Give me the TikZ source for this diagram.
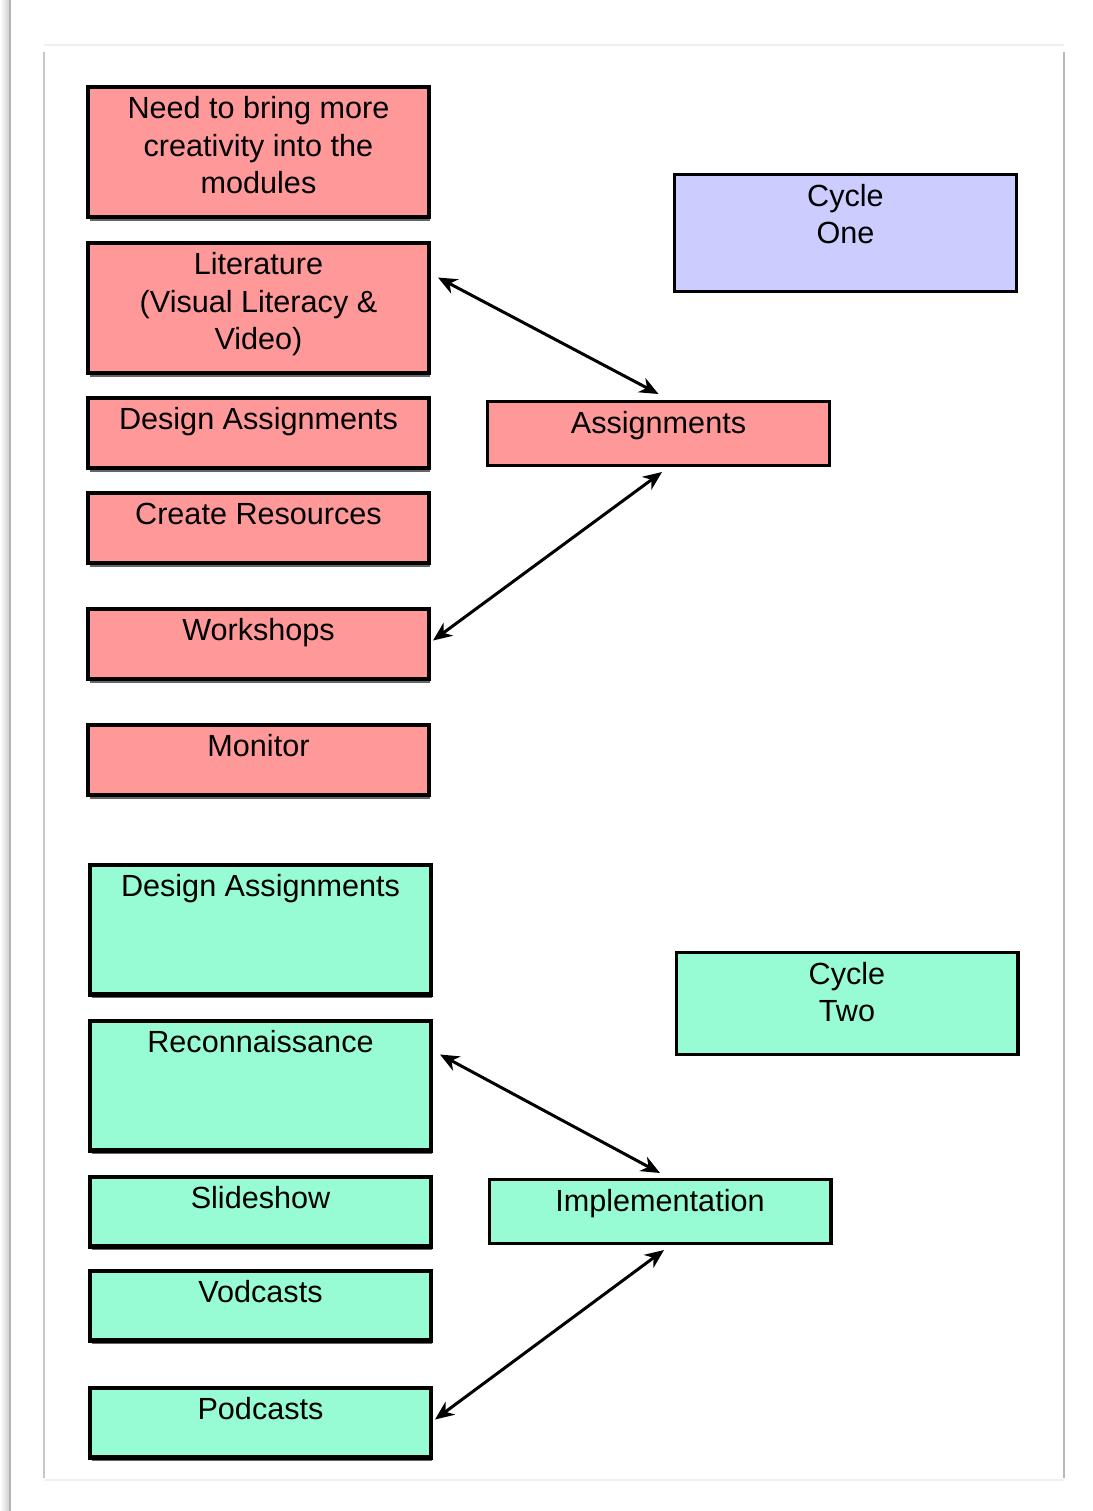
\documentclass[tikz,border=0pt]{standalone}
\usepackage{fontspec}
\setmainfont{Liberation Sans}
\usepackage{tikz}
\usetikzlibrary{arrows.meta}
\usetikzlibrary{positioning}
\usetikzlibrary{shadows}

\definecolor{pinkfill}{RGB}{255,153,153}
\definecolor{bluefill}{RGB}{204,204,255}
\definecolor{greenfill}{RGB}{151,252,212}

% text block, pinned to the top of its box
\newcommand{\boxlines}[3]{\parbox[c][#2][t]{#1}{\centering\rule{0pt}{15.8pt}#3}}

\tikzset{
    stage/.style={
           rectangle,
           draw=black, line width=2.2pt,
           inner sep=0pt,
           font=\fontsize{15.3pt}{18.75pt}\selectfont,
           drop shadow={shadow xshift=0.8pt, shadow yshift=-1.9pt,
                        fill=black!80, opacity=0.75},
           },
    hub/.style={
           rectangle,
           draw=black, line width=1.6pt,
           inner sep=0pt,
           font=\fontsize{15.3pt}{18.75pt}\selectfont,
           },
    link/.style={<->, line width=1.5pt},
}

\begin{document}
\begin{tikzpicture}
[
x=0.5pt, y=-0.5pt,
>={Stealth[length=9.5pt,width=8pt,inset=3pt]}
]
 \useasboundingbox (0,0) rectangle (1093,1511);

 % page frame
 \shade[left color=white, right color=black!18] (0,0) rectangle (9,1511);
 \draw[black!30, line width=1pt] (10,0) -- (10,1511);
 \draw[black!6, line width=1pt] (44,45) -- (1064,45);
 \draw[black!6, line width=1pt] (44,1480) -- (1064,1480);
 \draw[black!22, line width=0.8pt] (44,52) -- (44,1478);
 \draw[black!28, line width=1pt] (1064,52) -- (1064,1478);

 % CYCLE ONE
 \node[stage, fill=pinkfill] (NEED) at (258.5,152)
 {%
 \boxlines{170.3pt}{64.8pt}{Need to bring more\\creativity into the\\modules}
 };

 \node[stage, fill=pinkfill,
 below=11pt of NEED] (LIT)
 {%
 \boxlines{170.3pt}{64.8pt}{Literature\\(Visual Literacy \&\\Video)}
 };

 \node[stage, fill=pinkfill,
 below=10.5pt of LIT] (DESIGN)
 {%
 \boxlines{170.3pt}{34.8pt}{Design Assignments}
 };

 \node[stage, fill=pinkfill,
 below=10.5pt of DESIGN] (CREATE)
 {%
 \boxlines{170.3pt}{34.8pt}{Create Resources}
 };

 \node[stage, fill=pinkfill,
 below=21pt of CREATE] (WORK)
 {%
 \boxlines{170.3pt}{34.8pt}{Workshops}
 };

 \node[stage, fill=pinkfill,
 below=21pt of WORK] (MONITOR)
 {%
 \boxlines{170.3pt}{34.8pt}{Monitor}
 };

 \node[hub, fill=bluefill] (CYCLEONE) at (845.5,233)
 {%
 \boxlines{170.9pt}{58.4pt}{Cycle\\One}
 };

 \node[hub, fill=pinkfill] (ASSIGN) at (658.5,433.5)
 {%
 \boxlines{170.9pt}{31.9pt}{Assignments}
 };

 % CYCLE TWO
 \node[stage, fill=greenfill] (REDESIGN) at (260.5,929.5)
 {%
 \boxlines{170.3pt}{64.8pt}{Design Assignments}
 };

 \node[stage, fill=greenfill,
 below=11pt of REDESIGN] (RECON)
 {%
 \boxlines{170.3pt}{64.8pt}{Reconnaissance}
 };

 \node[stage, fill=greenfill,
 below=11pt of RECON] (SLIDE)
 {%
 \boxlines{170.3pt}{34.8pt}{Slideshow}
 };

 \node[stage, fill=greenfill,
 below=10pt of SLIDE] (VOD)
 {%
 \boxlines{170.3pt}{34.8pt}{Vodcasts}
 };

 \node[stage, fill=greenfill,
 below=21.5pt of VOD] (POD)
 {%
 \boxlines{170.3pt}{34.8pt}{Podcasts}
 };

 \node[hub, fill=greenfill] (CYCLETWO) at (847,1003.5)
 {%
 \boxlines{170.9pt}{50.9pt}{Cycle\\Two}
 };

 \node[hub, fill=greenfill] (IMPL) at (660,1211.5)
 {%
 \boxlines{170.9pt}{31.9pt}{Implementation}
 };

 % draw the double arrows
 \path
  ([xshift=3.5pt,yshift=15.25pt]LIT.east) edge[link] ([yshift=3pt]ASSIGN.north)
  ([xshift=1pt,yshift=1.75pt]WORK.east) edge[link] ([xshift=1.75pt,yshift=-2.5pt]ASSIGN.south)
  ([xshift=3.5pt,yshift=15.5pt]RECON.east) edge[link] ([yshift=2.5pt]IMPL.north)
  ([xshift=1pt,yshift=1.5pt]POD.east) edge[link] ([xshift=2pt,yshift=-2.5pt]IMPL.south)
 ;
\end{tikzpicture}
\end{document}
